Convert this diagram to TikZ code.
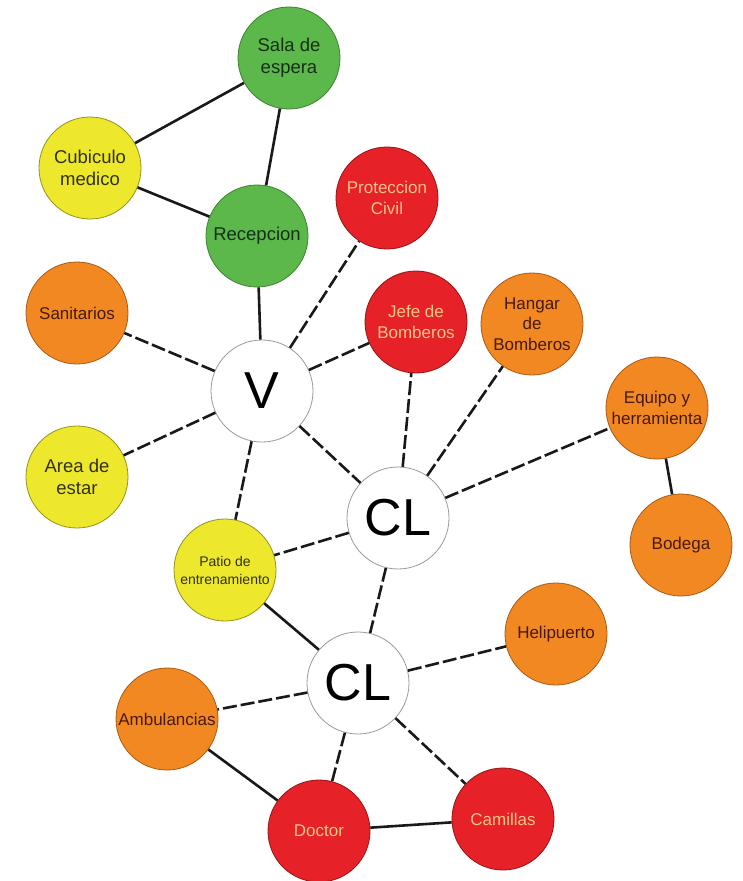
\documentclass[tikz,border=0pt]{standalone}
\usepackage{fontspec}
\setmainfont{Liberation Sans}

% fills, outlines and label colours of the room circles
\definecolor{roomgreen}{RGB}{92,184,74}
\definecolor{roomgreenedge}{RGB}{60,130,50}
\definecolor{greentext}{RGB}{22,48,22}
\definecolor{roomyellow}{RGB}{238,232,44}
\definecolor{roomyellowedge}{RGB}{150,145,30}
\definecolor{yellowtext}{RGB}{50,48,20}
\definecolor{roomorange}{RGB}{242,136,34}
\definecolor{roomorangeedge}{RGB}{170,90,20}
\definecolor{orangetext}{RGB}{70,25,10}
\definecolor{roomred}{RGB}{230,34,40}
\definecolor{roomrededge}{RGB}{150,20,20}
\definecolor{redtext}{RGB}{246,196,132}

\tikzset{
  room/.style={circle, minimum size=102pt, inner sep=0pt, align=center,
    line width=0.8pt, font=\fontsize{17}{20.5}\selectfont},
  greenroom/.style={room, fill=roomgreen, draw=roomgreenedge, text=greentext,
    font=\fontsize{18.5}{22}\selectfont},
  yellowroom/.style={room, fill=roomyellow, draw=roomyellowedge, text=yellowtext,
    font=\fontsize{18.5}{22}\selectfont},
  orangeroom/.style={room, fill=roomorange, draw=roomorangeedge, text=orangetext},
  redroom/.style={room, fill=roomred, draw=roomrededge, text=redtext},
  hub/.style={circle, minimum size=102pt, inner sep=0pt, fill=white,
    draw=black!40, line width=0.8pt, font=\fontsize{52}{52}\selectfont},
  link/.style={line width=2.6pt, draw=black!90},
  dlink/.style={link, dash pattern=on 14pt off 4pt},
}

\begin{document}
\begin{tikzpicture}[x=1pt,y=-1pt]
  \fill[white] (0,0) rectangle (743,881);
  \useasboundingbox (0,0) rectangle (743,881);

  % rooms
  \node[greenroom]  (sala)   at (289,58)  {Sala de\\espera};
  \node[yellowroom] (cubic)  at (90,168)  {Cubiculo\\medico};
  \node[greenroom]  (recep)  at (257,236) {Recepcion};
  \node[redroom]    (prot)   at (387,198) {Proteccion\\Civil};
  \node[orangeroom] (sanit)  at (77,313)  {Sanitarios};
  \node[redroom]    (jefe)   at (416,322) {Jefe de\\Bomberos};
  \node[orangeroom] (hangar) at (532,324) {Hangar\\de\\Bomberos};
  \node[hub]        (v)      at (262,391) {V};
  \node[orangeroom] (equipo) at (657,408) {Equipo y\\herramienta};
  \node[yellowroom] (area)   at (77,477)  {Area de\\estar};
  \node[hub]        (cla)    at (398,518) {CL};
  \node[orangeroom] (bodega) at (681,545) {Bodega};
  \node[yellowroom, font=\fontsize{14}{18}\selectfont]
                    (patio)  at (225,570) {Patio de\\entrenamiento};
  \node[orangeroom] (heli)   at (556,634) {Helipuerto};
  \node[hub]        (clb)    at (358,683) {CL};
  \node[orangeroom] (ambu)   at (167,719) {Ambulancias};
  \node[redroom]    (doctor) at (319,831) {Doctor};
  \node[redroom]    (cami)   at (503,819) {Camillas};

  % direct connections
  \draw[link] (cubic) -- (sala);
  \draw[link] (sala) -- (recep);
  \draw[link] (cubic) -- (recep);
  \draw[link] (recep) -- (v);
  \draw[link] (equipo) -- (bodega);
  \draw[link] (patio) -- (clb);
  \draw[link] (ambu) -- (doctor);
  \draw[link] (doctor) -- (cami);

  % corridor connections
  \draw[dlink] (v) -- (prot);
  \draw[dlink] (v) -- (jefe);
  \draw[dlink] (v) -- (sanit);
  \draw[dlink] (v) -- (area);
  \draw[dlink] (v) -- (patio);
  \draw[dlink] (v) -- (cla);
  \draw[dlink] (cla) -- (jefe);
  \draw[dlink] (cla) -- (hangar);
  \draw[dlink] (cla) -- (equipo);
  \draw[dlink] (cla) -- (patio);
  \draw[dlink] (cla) -- (clb);
  \draw[dlink] (clb) -- (heli);
  \draw[dlink] (clb) -- (ambu);
  \draw[dlink] (clb) -- (doctor);
  \draw[dlink] (clb) -- (cami);
\end{tikzpicture}
\end{document}
